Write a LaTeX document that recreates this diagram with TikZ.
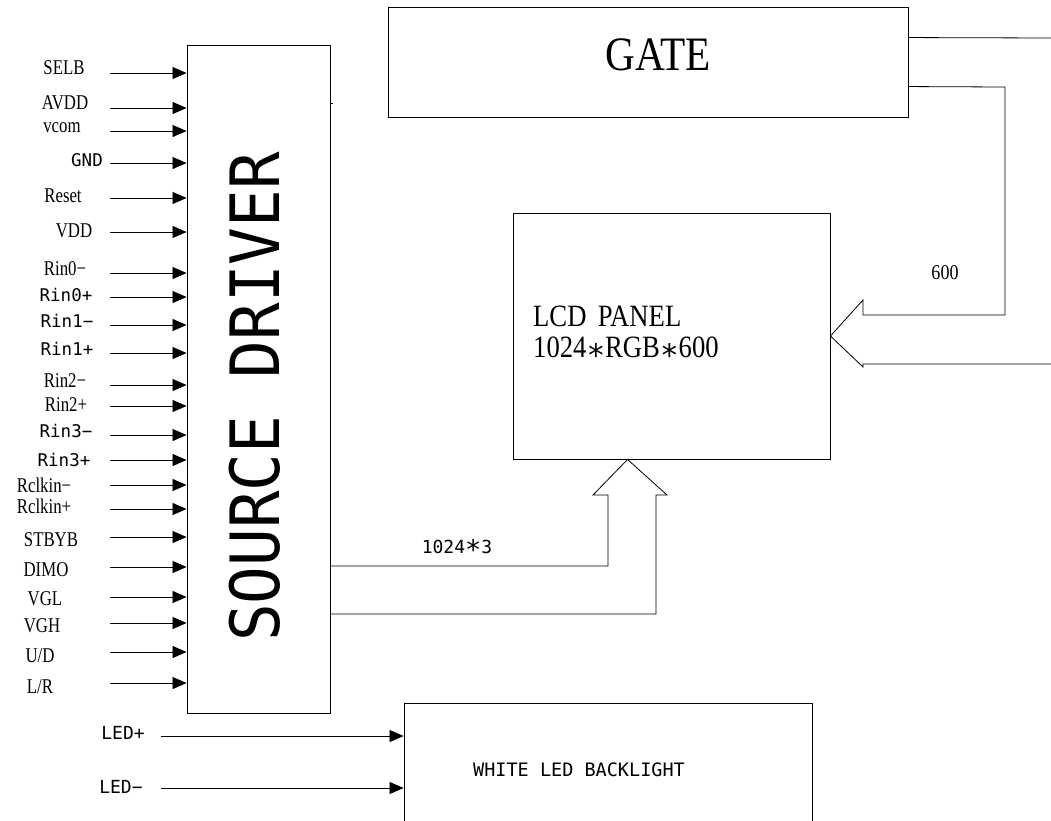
\documentclass[tikz,border=0pt]{standalone}
\usepackage{fontspec}
\setmainfont{Liberation Serif}[FakeStretch=0.86]
\newfontfamily\serlabfont{Liberation Serif}[FakeStretch=0.8]
\newfontfamily\sanslab{DejaVu Sans Mono}
\newfontfamily\bigsans{DejaVu Sans Mono}[FakeStretch=0.92]
\usetikzlibrary{arrows.meta,calc}
\tikzset{
  box/.style={draw, rectangle, inner sep=0pt, line width=0.9pt},
  pinarrow/.style={line width=0.8pt, -{Triangle[length=14pt,width=12pt]}},
  wire/.style={line width=0.8pt},
  serlab/.style={font=\serlabfont\fontsize{21}{21}\selectfont, inner sep=0pt},
  sanlab/.style={font=\sanslab\fontsize{17.5}{18}\selectfont, inner sep=0pt},
}
\newcommand\inpin[6]{%
  \coordinate (#1s) at (110,#2);
  \draw[pinarrow] (#1s) -- (src.west |- #1s);
  \node[#5] (#1l) at (#3,#4) {#6};
}
\newcommand\bigast{{\sanslab\raisebox{-0.3em}{*}}}
\begin{document}
\begin{tikzpicture}[x=1pt,y=-1pt]
\useasboundingbox (0,0) rectangle (1051,820);
\clip (0,0) rectangle (1051,820);

% blocks
\node[box, minimum width=143pt, minimum height=668pt] (src) at (258.5,379) {};
\node[font=\bigsans\fontsize{68}{68}\selectfont, rotate=90, inner sep=0pt] (srctxt) at (255,397) {SOURCE DRIVER};
\node[box, minimum width=520pt, minimum height=110pt] (gate) at (648,62) {};
\node[font=\fontsize{48}{48}\selectfont, inner sep=0pt] (gatetxt) at (658,55) {GATE};
\node[box, minimum width=317pt, minimum height=246pt] (lcd) at (671.5,336) {};
\node[font=\fontsize{31}{31}\selectfont, inner sep=0pt, anchor=west] (lcdt1) at (533,316) {LCD\hspace{0.15em} PANEL};
\node[font=\fontsize{31}{31}\selectfont, inner sep=0pt, anchor=west] (lcdt2) at (533,352) {1024\bigast RGB\bigast 600};
\node[box, minimum width=408pt, minimum height=200pt] (led) at (608,803) {};
\node[font=\sanslab\fontsize{18.5}{19}\selectfont, inner sep=0pt] (ledtxt) at (579,770) {WHITE LED BACKLIGHT};

% small tick on source driver
\draw[wire] ([yshift=-59pt]src.north east) -- ++(3,0);

% input pins
\inpin{selb}{73}{64}{68}{serlab}{SELB}
\inpin{avdd}{108}{65}{103}{serlab}{AVDD}
\inpin{vcom}{131}{62}{128}{serlab}{vcom}
\inpin{gnd}{163}{87}{160}{sanlab}{GND}
\inpin{reset}{198}{63}{196}{serlab}{Reset}
\inpin{vdd}{232}{74}{231}{serlab}{VDD}
\inpin{rinzm}{273}{65}{269}{serlab}{Rin0−}
\inpin{rinzp}{297}{66}{295}{sanlab}{Rin0+}
\inpin{rinam}{325}{67}{321}{sanlab}{Rin1−}
\inpin{rinap}{353}{67}{349}{sanlab}{Rin1+}
\inpin{rinbm}{385}{65}{381}{serlab}{Rin2−}
\inpin{rinbp}{406}{66}{405}{serlab}{Rin2+}
\inpin{rincm}{435}{66}{431}{sanlab}{Rin3−}
\inpin{rincp}{460}{64}{460}{sanlab}{Rin3+}
\inpin{rclkm}{485}{44}{485}{serlab}{Rclkin−}
\inpin{rclkp}{509}{44}{506}{serlab}{Rclkin+}
\inpin{stbyb}{537}{51}{540}{serlab}{STBYB}
\inpin{dimo}{567}{46}{570}{serlab}{DIMO}
\inpin{vgl}{597}{45}{599}{serlab}{VGL}
\inpin{vgh}{623}{42}{626}{serlab}{VGH}
\inpin{ud}{652}{40}{656}{serlab}{U/D}
\inpin{lr}{683}{40}{687}{serlab}{L/R}

% LED inputs
\coordinate (ledps) at (161,736);
\coordinate (ledms) at (161,788);
\draw[pinarrow] (ledps) -- (led.west |- ledps);
\draw[pinarrow] (ledms) -- (led.west |- ledms);
\node[font=\sanslab\fontsize{18}{18}\selectfont, inner sep=0pt] (ledpl) at (123,733) {LED+};
\node[font=\sanslab\fontsize{18}{18}\selectfont, inner sep=0pt] (ledml) at (121,787) {LED−};

% GATE outputs
\coordinate (gtopend) at (1051,38);
\draw[wire] ([yshift=-31pt]gate.north east) -- (gtopend);
\coordinate (gbotend) at (1051,364);
\draw[wire] ([yshift=-80pt]gate.north east) -- (1005,87) -- (1005,315) -- (863,315) -- (863,300)
  -- (lcd.east) -- (863,367) -- (863,364) -- (gbotend);
\node[font=\fontsize{21}{21}\selectfont, inner sep=0pt] (lab600) at (945,273) {600};

% source driver outputs to LCD
\draw[wire] (src.east |- 0,566) -- (608,566) -- (608,495) -- (593,495)
  -- ([xshift=115pt]lcd.south west) -- (667,495) -- (656,495) -- (656,614) -- (src.east |- 0,614);
\node[font=\sanslab\fontsize{18}{18}\selectfont, inner sep=0pt] (lab1024) at (457,549) {1024\raisebox{-0.3em}{\scalebox{1.5}{*}}3};
\end{tikzpicture}
\end{document}
